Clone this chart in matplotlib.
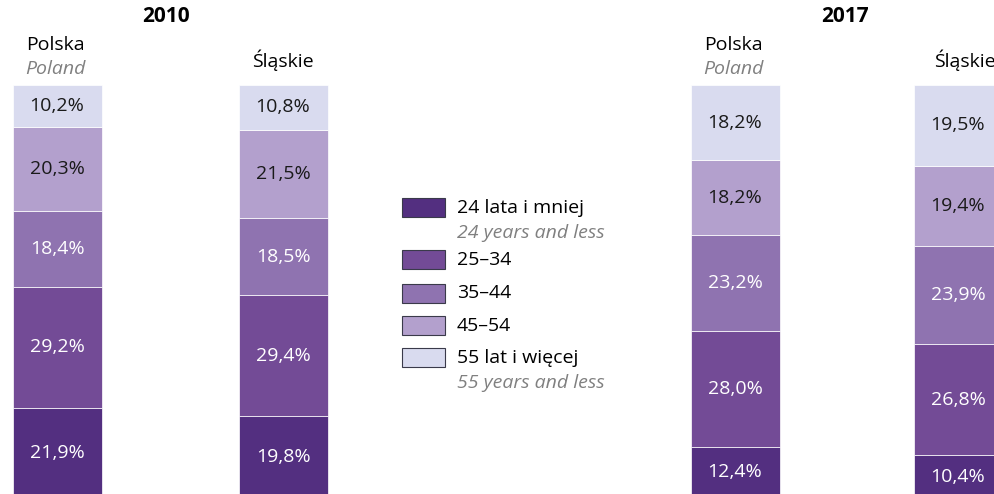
import numpy as np
import matplotlib
matplotlib.use('Agg')
import matplotlib.pyplot as plt
from matplotlib.patches import Rectangle

plt.rcParams['font.family'] = ['Open Sans', 'DejaVu Sans']

# --- data: age structure (%), bottom to top
groups = ['Polska 2010', 'Śląskie 2010', 'Polska 2017', 'Śląskie 2017']
age_24 = [21.9, 19.8, 12.4, 10.4]
age_25_34 = [29.2, 29.4, 28.0, 26.8]
age_35_44 = [18.4, 18.5, 23.2, 23.9]
age_45_54 = [20.3, 21.5, 18.2, 19.4]
age_55 = [10.2, 10.8, 18.2, 19.5]

series = [age_24, age_25_34, age_35_44, age_45_54, age_55]
legend_pl = ['24 lata i mniej', '25–34', '35–44', '45–54', '55 lat i więcej']
legend_en = ['24 years and less', None, None, None, '55 years and less']

colors = ['#532f80', '#734b96', '#8f73b0', '#b3a0cd', '#d9dbef']
text_colors = ['white', 'white', 'white', '#1a1a1a', '#1a1a1a']

# layout (pixels)
W, H = 995, 494
xpos = [57, 283, 735, 958]
bar_w = 89

fig = plt.figure(figsize=(W / 100, H / 100), dpi=100)
# bars span from y=85px (top) to y=498px (slightly below the image edge)
ax = fig.add_axes([0, (H - 498) / H, 1, 413 / H])
ax.set_xlim(0, W)
ax.set_ylim(0, 100)
ax.axis('off')

bottom = np.zeros(len(groups))
for vals, c, tc in zip(series, colors, text_colors):
    vals = np.array(vals)
    ax.bar(xpos, vals, width=bar_w, bottom=bottom, color=c,
           edgecolor='#ffffff', linewidth=0.5)
    for x, b, v in zip(xpos, bottom, vals):
        ax.text(x, b + v / 2, f'{v:.1f}%'.replace('.', ','), ha='center',
                va='center', fontsize=14, color=tc)
    bottom += vals


def ftext(x, y, s, **kw):
    fig.text(x / W, 1 - y / H, s, ha=kw.pop('ha', 'center'), va='center', **kw)


# headers
ftext(166, 16, '2010', fontsize=15, fontweight='bold', color='black')
ftext(845, 16, '2017', fontsize=15, fontweight='bold', color='black')
for x in (55, 733):
    ftext(x, 45, 'Polska', fontsize=14, color='black')
    ftext(x, 69, 'Poland', fontsize=14, color='#808080', style='italic')
ftext(283, 60, 'Śląskie', fontsize=14, color='black')
ftext(965, 60, 'Śląskie', fontsize=14, color='black')

# legend
patch_y = [207, 259, 293, 325, 357]
text_y = [208, 260, 293, 326, 358]
for py, ty, c, pl, en in zip(patch_y, text_y, colors, legend_pl, legend_en):
    fig.add_artist(Rectangle((402 / W, 1 - (py + 9.5) / H), 43 / W, 19 / H,
                             transform=fig.transFigure, facecolor=c,
                             edgecolor='#3a3a4a', linewidth=0.8))
    ftext(457, ty, pl, fontsize=14, color='black', ha='left')
    if en:
        ftext(457, ty + 25, en, fontsize=14, color='#808080', style='italic', ha='left')

fig.savefig('out.png', dpi=100)
